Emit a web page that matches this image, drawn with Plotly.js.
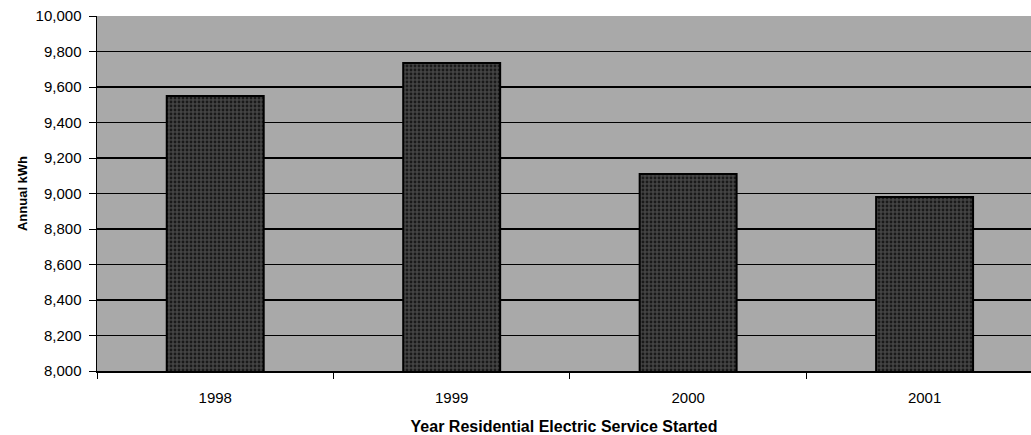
<!DOCTYPE html>
<html>
<head>
<meta charset="utf-8">
<script src="https://cdn.plot.ly/plotly-3.0.1.min.js"></script>
<style>html,body{margin:0;padding:0;background:#fff;}#chart{width:1031px;height:435px;}</style>
</head>
<body>
<div id="chart"></div>
<script>
const years = ["1998", "1999", "2000", "2001"];
const annualKWh = [9550, 9735, 9110, 8980];
const yTickValues = [8000, 8200, 8400, 8600, 8800, 9000, 9200, 9400, 9600, 9800, 10000];

const trace = {
  type: "bar",
  x: years,
  y: annualKWh,
  marker: {
    color: "#363636",
    line: {color: "#000000", width: 2},
    pattern: {shape: ".", fgcolor: "#1a1a1a", bgcolor: "#444444", size: 4, solidity: 0.4}
  },
  hoverinfo: "x+y"
};

const layout = {
  width: 1031,
  height: 435,
  margin: {l: 97, r: 0, t: 16, b: 64},
  paper_bgcolor: "#ffffff",
  plot_bgcolor: "#a9a9a9",
  bargap: 0.59,
  showlegend: false,
  font: {family: "Liberation Sans, Arial, sans-serif", color: "#000"},
  xaxis: {
    type: "category",
    range: [-0.5, 3.45],
    showgrid: false,
    showline: true,
    linecolor: "#000",
    linewidth: 2,
    ticks: "outside",
    ticklen: 6,
    tickcolor: "#000",
    tickson: "boundaries",
    ticklabelstandoff: 12,
    tickfont: {size: 15},
    title: {text: "Year Residential Electric Service Started", font: {size: 16, weight: "bold"}, standoff: 16}
  },
  yaxis: {
    range: [8000, 10000],
    tickvals: yTickValues,
    tickformat: ",d",
    showgrid: true,
    gridcolor: "#000",
    gridwidth: 1.3,
    showline: true,
    linecolor: "#000",
    linewidth: 1.5,
    ticks: "outside",
    ticklen: 7,
    tickcolor: "#000",
    ticklabelstandoff: 4,
    tickfont: {size: 15},
    zeroline: false,
    title: {text: "Annual kWh", font: {size: 13, weight: "bold"}, standoff: 5}
  }
};

Plotly.newPlot("chart", [trace], layout, {displayModeBar: false, staticPlot: true});
</script>
</body>
</html>
